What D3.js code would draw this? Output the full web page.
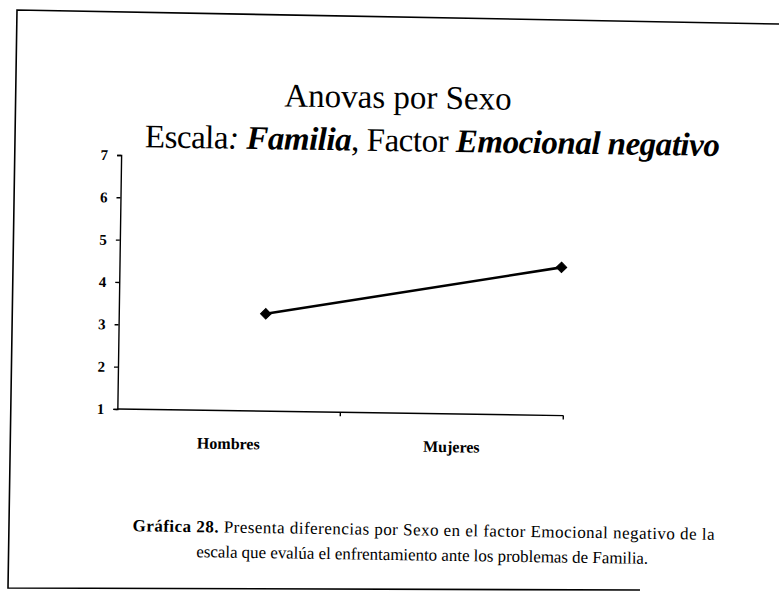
<!DOCTYPE html>
<html>
<head>
<meta charset="utf-8">
<title>Anovas por Sexo</title>
<style>
body {
  margin: 0;
  background: #fff;
}

svg {
  display: block;
}

text {
  font-family: "Liberation Serif", "Times New Roman", serif;
  fill: #000;
}

.axis path, .axis line {
  stroke: #000;
  stroke-width: 1.4px;
}

.axis text {
  font-weight: bold;
}
</style>
<script src="https://d3js.org/d3.v7.min.js"></script>
</head>
<body>
<div id="result"></div>
<script>
var categories = ['Hombres', 'Mujeres']
var values = [3.3, 4.5]
var yTicks = [1, 2, 3, 4, 5, 6, 7]

var W = 779, H = 595

var svg = d3.select('#result').append('svg').attr('width', W).attr('height', H)

// the scan is slightly skewed, so the frame is drawn on its own
svg.append('path')
  .attr('d', 'M640,590 L8,588 L17,10 L779,24')
  .attr('fill', 'none')
  .attr('stroke', '#000')
  .attr('stroke-width', 1.6)

// everything else sits a bit rotated like the page
var g = svg.append('g').attr('transform', 'rotate(0.85,390,300)')

var plotL = 119, plotR = 565, plotT = 159, plotB = 413

var y = d3.scaleLinear().domain([1, 7]).range([plotB, plotT])
var xBand = d3.scaleBand().domain(categories).range([plotL, plotR])
// markers are not centred on the category slots in the original
var xPt = d3.scalePoint().domain(categories).range([plotL + 147, plotL + 442])

// titles
g.append('text')
  .attr('x', 395).attr('y', 108)
  .attr('text-anchor', 'middle')
  .style('font-size', '33px')
  .text('Anovas por Sexo')

var sub = g.append('text')
  .attr('x', 430).attr('y', 151)
  .attr('text-anchor', 'middle')
  .style('font-size', '33px')
  .attr('textLength', 575)
sub.append('tspan').text('Escala')
sub.append('tspan').style('font-style', 'italic').text(': ')
sub.append('tspan').style('font-style', 'italic').style('font-weight', 'bold').text('Familia')
sub.append('tspan').text(', Factor ')
sub.append('tspan').style('font-style', 'italic').style('font-weight', 'bold').text('Emocional negativo')

// y axis
var yAxis = g.append('g').attr('class', 'axis')
  .attr('transform', `translate(${plotL},0)`)
  .call(d3.axisLeft(y).tickValues(yTicks).tickSize(4).tickSizeOuter(4).tickPadding(9).tickFormat(d3.format('d')))
yAxis.selectAll('text').style('font-size', '15px')

// x axis
var xAxis = g.append('g').attr('class', 'axis')
  .attr('transform', `translate(0,${plotB})`)
  .call(d3.axisBottom(xBand).tickSize(0).tickSizeOuter(0).tickPadding(27))
xAxis.selectAll('text').style('font-size', '16px')
xAxis.select('.domain').attr('d', `M${plotL},0H${plotR}`)
// category dividers
xAxis.selectAll('.divider').data([plotL + xBand.bandwidth(), plotR]).enter().append('line')
  .attr('class', 'divider')
  .attr('x1', d => d).attr('x2', d => d)
  .attr('y1', 0).attr('y2', 4)

// line and markers
var pts = categories.map((c, i) => ({cat: c, v: values[i]}))

g.append('path')
  .datum(pts)
  .attr('fill', 'none')
  .attr('stroke', '#000')
  .attr('stroke-width', 2.6)
  .attr('d', d3.line().x(d => xPt(d.cat)).y(d => y(d.v)))

g.selectAll('.marker').data(pts).enter().append('path')
  .attr('class', 'marker')
  .attr('transform', d => `translate(${xPt(d.cat)},${y(d.v)})`)
  .attr('d', d3.symbol().type(d3.symbolDiamond2).size(70))
  .attr('fill', '#000')
  .attr('stroke', '#000')
  .attr('stroke-width', 1)

// caption
var cap1 = g.append('text')
  .attr('x', 427).attr('y', 535)
  .attr('text-anchor', 'middle')
  .attr('textLength', 582)
  .style('font-size', '17px')
cap1.append('tspan').style('font-weight', 'bold').text('Gráfica 28.')
cap1.append('tspan').text(' Presenta diferencias por Sexo en el factor Emocional negativo de la')

g.append('text')
  .attr('x', 426).attr('y', 560)
  .attr('text-anchor', 'middle')
  .attr('textLength', 452)
  .style('font-size', '17px')
  .text('escala que evalúa el enfrentamiento ante los problemas de Familia.')
</script>
</body>
</html>
